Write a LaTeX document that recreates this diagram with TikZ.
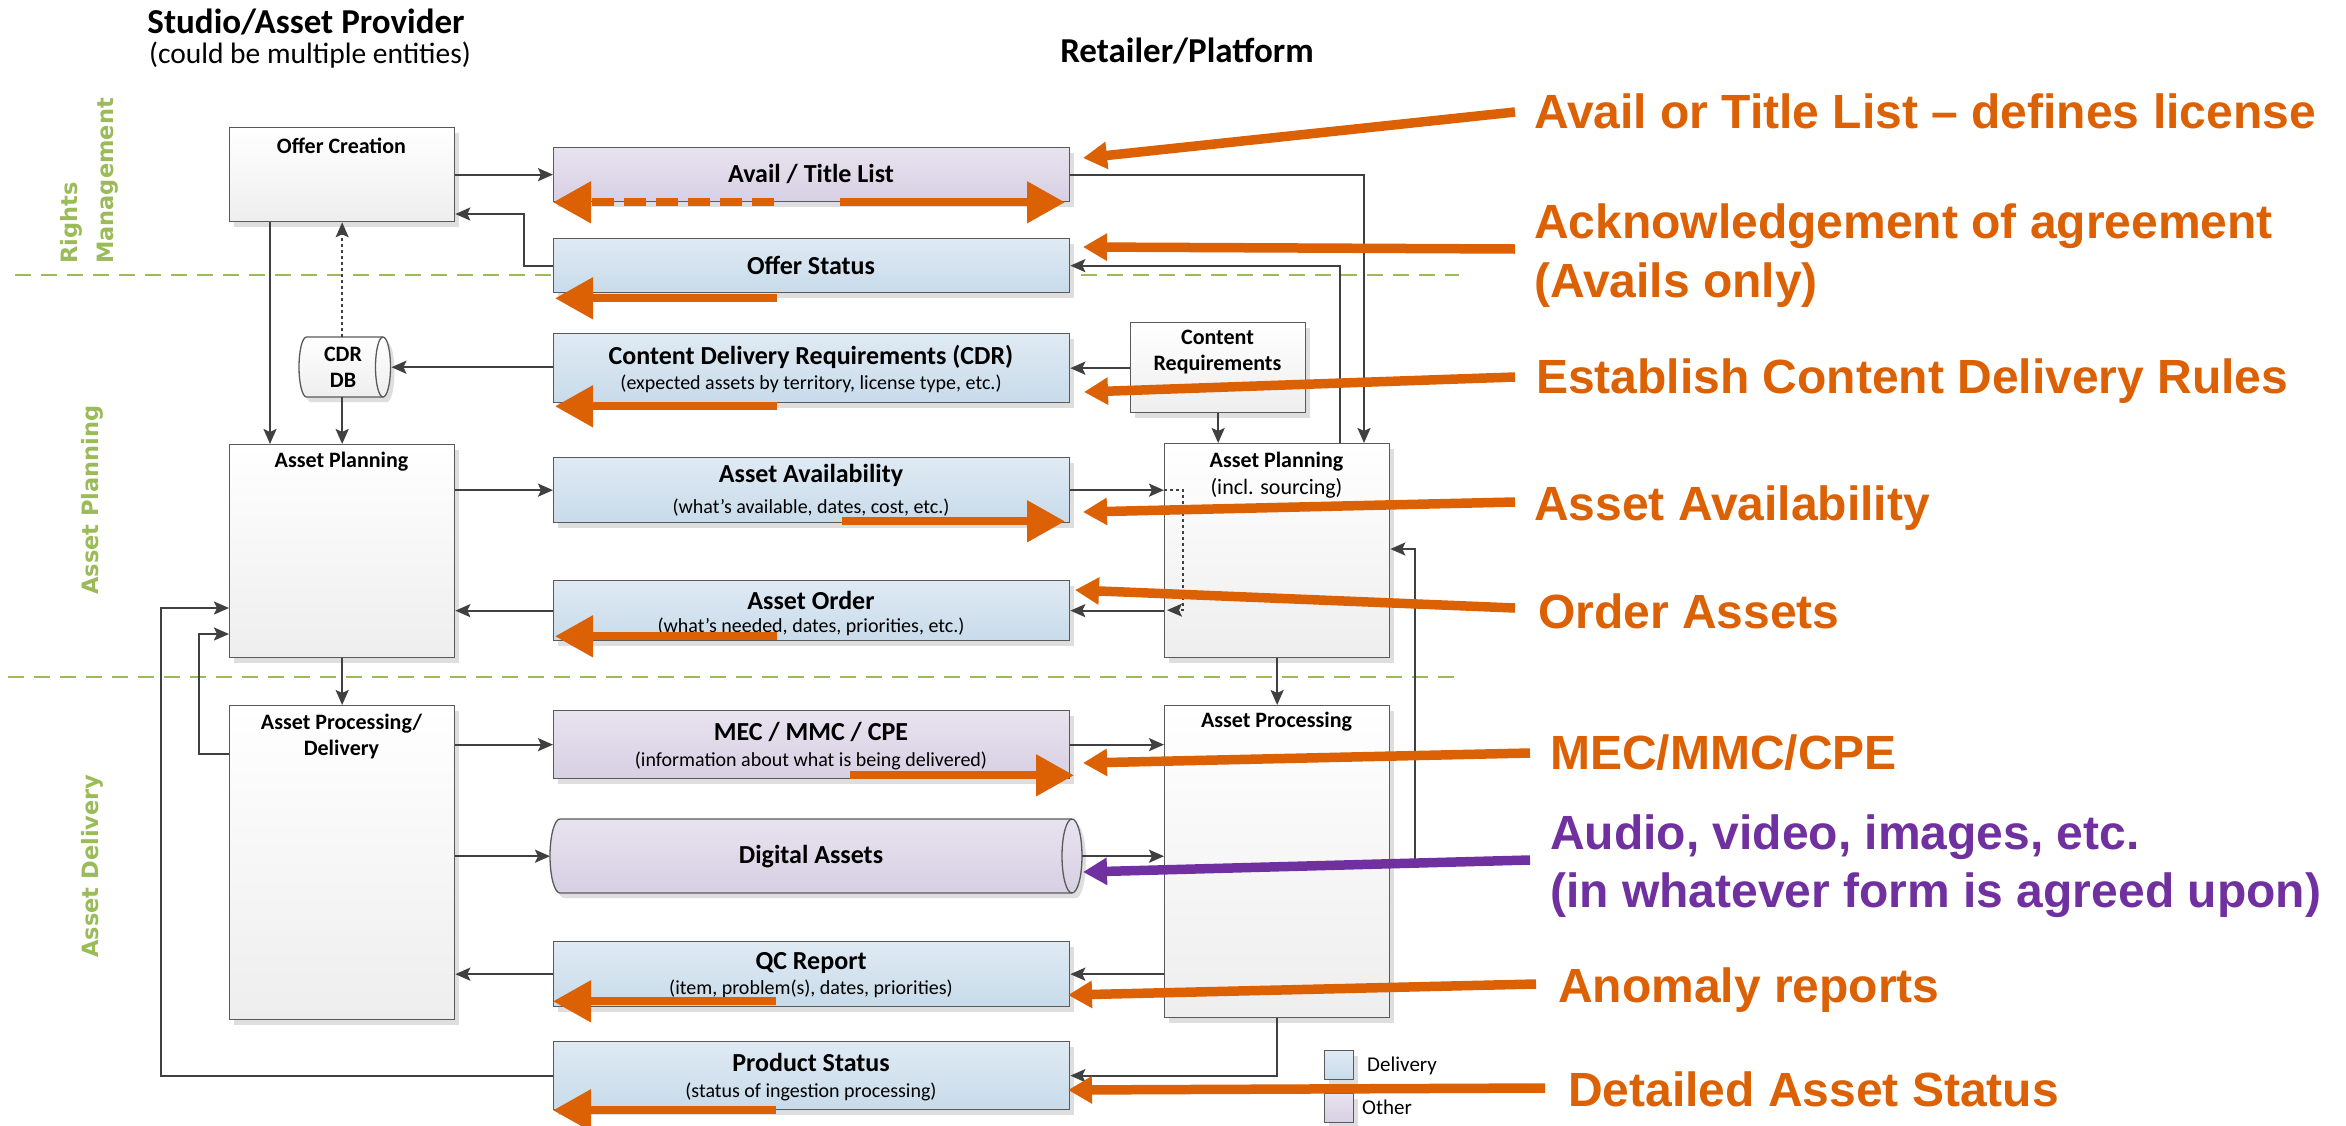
\documentclass[tikz,border=0pt]{standalone}
\usepackage{fontspec}
\setmainfont{Carlito}
\newfontfamily\annofont{Liberation Sans}
\newfontfamily\bandfont{DejaVu Sans}
\usetikzlibrary{arrows.meta,shadows,calc}

\definecolor{lnkgray}{RGB}{64,64,64}
\definecolor{edgegray}{RGB}{90,90,90}
\definecolor{shadowgray}{RGB}{222,222,222}
\definecolor{plainbot}{RGB}{238,238,238}
\definecolor{deltop}{RGB}{223,234,243}
\definecolor{delbot}{RGB}{200,219,234}
\definecolor{othtop}{RGB}{232,227,239}
\definecolor{othbot}{RGB}{215,207,227}
\definecolor{bandgreen}{RGB}{155,187,89}
\definecolor{noteorange}{RGB}{220,96,4}
\definecolor{notepurple}{RGB}{112,48,160}

% horizontal cylinder: #1 left x, #2 centre x of the front end, #3 top y, #4 bottom y, #5 end half-width
\newcommand\cylpath[5]{(#1+#5,#3) -- (#2,#3)
  arc[start angle=-90,end angle=90,x radius=#5,y radius=(#4-#3)/2]
  -- (#1+#5,#4)
  arc[start angle=90,end angle=270,x radius=#5,y radius=(#4-#3)/2] -- cycle}
\newcommand\cylface[4]{(#1,#2) arc[start angle=-90,end angle=-270,x radius=#4,y radius=(#3-#2)/2]}

\begin{document}
\begin{tikzpicture}[x=1pt,y=-1pt,
  lnk/.style={draw=lnkgray,line width=2.2pt,-{Stealth[length=15pt,width=13pt,inset=3pt]}},
  dotlnk/.style={draw=lnkgray,line width=1.6pt,dash pattern=on 3pt off 3pt,-{Stealth[length=15pt,width=13pt,inset=3pt]}},
  sepline/.style={draw=bandgreen,line width=2pt,dash pattern=on 16pt off 10pt},
  boxbase/.style={draw=edgegray,line width=1.3pt,inner sep=0pt,anchor=north west,
    general shadow={fill=shadowgray,shadow xshift=4pt,shadow yshift=-5pt}},
  plainbox/.style={boxbase,top color=white,bottom color=plainbot},
  delivbox/.style={boxbase,top color=deltop,bottom color=delbot},
  otherbox/.style={boxbase,top color=othtop,bottom color=othbot},
  ttlS/.style={font=\fontsize{22}{26}\selectfont\bfseries,align=center,inner sep=0pt},
  ttlM/.style={font=\fontsize{26}{30}\selectfont\bfseries,inner sep=0pt},
  subM/.style={font=\fontsize{20}{24}\selectfont,inner sep=0pt},
  band/.style={font=\bandfont\bfseries\fontsize{22.5}{36}\selectfont,text=bandgreen,rotate=90,inner sep=0pt},
  note/.style={font=\annofont\bfseries\fontsize{48}{56}\selectfont,text=noteorange,anchor=base west,inner sep=0pt},
  bigarrow/.style={draw=noteorange,line width=8pt,-{Triangle[length=38pt,width=40pt]}},
  callout/.style={draw=noteorange,line width=9.5pt,-{Triangle[length=24pt,width=26pt]}},
]
\useasboundingbox (0,0) rectangle (2346,1125);
\fill[white] (0,0) rectangle (2346,1125);

% swim-lane separators
\draw[sepline] (15,275) -- (1459,275);
\draw[sepline] (8,677) -- (1455,677);

% column headings
\node[font=\fontsize{35}{40}\selectfont\bfseries,anchor=base,inner sep=0pt] (studio) at (306,33) {Studio/Asset Provider};
\node[font=\fontsize{29.5}{34}\selectfont,anchor=base,inner sep=0pt] (studiosub) at (310,63) {(could be multiple entities)};
\node[font=\fontsize{35}{40}\selectfont\bfseries,anchor=base,inner sep=0pt] (retail) at (1187,62) {Retailer/Platform};

% lane names
\node[band,anchor=west,align=left] (rmband) at (89,264) {Rights\\Management};
\node[band] (apband) at (92,500) {Asset Planning};
\node[band] (adband) at (92,866) {Asset Delivery};

% provider side
\node[plainbox,minimum width=225,minimum height=94] (oc) at (229,127) {};
\node[plainbox,minimum width=225,minimum height=213] (apl) at (229,444) {};
\node[plainbox,minimum width=225,minimum height=314] (apd) at (229,705) {};

% exchanged documents
\node[otherbox,minimum width=516,minimum height=54] (avail) at (553,147) {};
\node[delivbox,minimum width=516,minimum height=54] (ostat) at (553,238) {};
\node[delivbox,minimum width=516,minimum height=69] (cdr) at (553,333) {};
\node[delivbox,minimum width=516,minimum height=65] (aa) at (553,457) {};
\node[delivbox,minimum width=516,minimum height=60] (ao) at (553,580) {};
\node[otherbox,minimum width=516,minimum height=68] (mec) at (553,710) {};
\node[delivbox,minimum width=516,minimum height=65] (qc) at (553,941) {};
\node[delivbox,minimum width=516,minimum height=68] (ps) at (553,1041) {};

% retailer side
\node[plainbox,minimum width=175,minimum height=90] (creq) at (1130,322) {};
\node[plainbox,minimum width=225,minimum height=214] (apr) at (1164,443) {};
\node[plainbox,minimum width=225,minimum height=312] (aproc) at (1164,705) {};

% legend swatches
\node[delivbox,minimum width=29,minimum height=29] (legd) at (1324,1050) {};
\node[otherbox,minimum width=29,minimum height=29] (lego) at (1324,1093) {};

% cylinders (CDR database, digital assets)
\fill[shadowgray,shift={(4,5)}] \cylpath{299}{383}{337}{397}{7.5};
\shade[top color=white,bottom color=plainbot,draw=edgegray,line width=1.3pt] \cylpath{299}{383}{337}{397}{7.5};
\draw[edgegray,line width=1.3pt] \cylface{383}{337}{397}{7.5};
\node[inner sep=0pt,minimum width=92,minimum height=60,anchor=north west] (cdrdb) at (299,337) {};

\fill[shadowgray,shift={(4,5)}] \cylpath{550}{1072}{819}{893}{10};
\shade[top color=othtop,bottom color=othbot,draw=edgegray,line width=1.3pt] \cylpath{550}{1072}{819}{893}{10};
\draw[edgegray,line width=1.3pt] \cylface{1072}{819}{893}{10};
\node[inner sep=0pt,minimum width=532,minimum height=74,anchor=north west] (da) at (550,819) {};

% box texts
\node[ttlS] (oct) at (341.5,146) {Offer Creation};
\node[ttlS] (aplt) at (341.5,462) {Asset Planning};
\node[ttlS] (apdt) at (341.5,736) {Asset Processing/\\Delivery};
\node[ttlS] (cdrdbt) at (343,367) {CDR\\DB};
\node[ttlS] (creqt) at (1217.5,352.5) {Content\\Requirements};
\node[ttlS] (aprt) at (1276.5,462) {Asset Planning};
\node[font=\fontsize{22}{26}\selectfont,inner sep=0pt] (aprs) at (1276.5,488) {(incl. sourcing)};
\node[ttlS] (aproct) at (1276.5,722) {Asset Processing};

\node[ttlM] (availt) at (811,174) {Avail / Title List};
\node[ttlM] (ostatt) at (811,265) {Offer Status};
\node[ttlM] (cdrt) at (811,357) {Content Delivery Requirements (CDR)};
\node[subM] (cdrs) at (811,384) {(expected assets by territory, license type, etc.)};
\node[ttlM] (aat) at (811,475) {Asset Availability};
\node[subM] (aas) at (811,508) {(what’s available, dates, cost, etc.)};
\node[ttlM] (aot) at (811,600) {Asset Order};
\node[subM] (aos) at (811,627) {(what’s needed, dates, priorities, etc.)};
\node[ttlM] (mect) at (811,732) {MEC / MMC / CPE};
\node[subM] (mecs) at (811,761) {(information about what is being delivered)};
\node[ttlM] (dat) at (811,857) {Digital Assets};
\node[ttlM] (qct) at (811,963) {QC Report};
\node[subM] (qcs) at (811,989) {(item, problem(s), dates, priorities)};
\node[ttlM] (pst) at (811,1062) {Product Status};
\node[subM] (pss) at (811,1092) {(status of ingestion processing)};

\node[font=\fontsize{21}{25}\selectfont,anchor=west,inner sep=0pt] (legdt) at (1367,1066) {Delivery};
\node[font=\fontsize{21}{25}\selectfont,anchor=west,inner sep=0pt] (legot) at (1362,1107) {Other};

% flows
\draw[lnk] (oc.east |- avail.west) -- (avail.west);
\draw[lnk] (ostat.west) -- ++(-29,0) |- (oc.east |- 0,214);
\draw[lnk] (oc.south -| 270,0) -- (apl.north -| 270,0);
\draw[dotlnk] (cdrdb.north -| apl.north) -- (oc.south -| apl.north);
\draw[lnk] (cdr.west |- cdrdb.east) -- (cdrdb.east);
\draw[lnk] (cdrdb.south -| apl.north) -- (apl.north);
\draw[lnk] (creq.west |- cdr.east) -- (cdr.east);
\draw[lnk] (creq.south) -- (apr.north -| creq.south);
\draw[lnk] (avail.east) -| (apr.north -| 1364,0);
\draw[lnk] (apr.north -| 1340,0) |- (ostat.east);
\draw[lnk] (apl.east |- aa.west) -- (aa.west);
\draw[lnk] (aa.east) -- (apr.west |- aa.east);
\draw[dotlnk] (apr.west |- aa.east) -- ++(19,0) -- ++(0,120) -- ++(-16,0);
\draw[lnk] (apr.west |- ao.east) -- (ao.east);
\draw[lnk] (ao.west) -- (apl.east |- ao.west);
\draw[lnk] (apl.south) -- (apd.north);
\draw[lnk] (apr.south) -- (aproc.north);
\draw[lnk] (apd.east |- mec.west) -- (mec.west);
\draw[lnk] (mec.east) -- (aproc.west |- mec.east);
\draw[lnk] (apd.east |- da.west) -- (da.west);
\draw[lnk] (da.east) -- (aproc.west |- da.east);
\draw[lnk] (aproc.west |- qc.east) -- (qc.east);
\draw[lnk] (qc.west) -- (apd.east |- qc.west);
\draw[lnk] (aproc.south) |- (ps.east);
\draw[lnk] (ps.west) -| (161,608) -- (apl.west |- 0,608);
\draw[lnk] (apd.west |- 0,754) -| (199,634) -- (apl.west |- 0,634);
\draw[lnk] (aproc.east |- 0,862) -| (1415,549) -- (apr.east |- 0,549);

% direction markers inside the documents
\draw[bigarrow,dash pattern=on 22pt off 10pt] ($(avail.south west)+(221,0)$) -- ($(avail.south west)+(0,0)$);
\draw[bigarrow] ($(avail.south west)+(287,0)$) -- ($(avail.south west)+(512,0)$);
\draw[bigarrow] ($(ostat.south west)+(224,5)$) -- ($(ostat.south west)+(2,5)$);
\draw[bigarrow] ($(cdr.south west)+(224,3)$) -- ($(cdr.south west)+(2,3)$);
\draw[bigarrow] ($(aa.south west)+(289,-2)$) -- ($(aa.south west)+(512,-2)$);
\draw[bigarrow] ($(ao.south west)+(224,-5)$) -- ($(ao.south west)+(2,-5)$);
\draw[bigarrow] ($(mec.south west)+(297,-4)$) -- ($(mec.south west)+(521,-4)$);
\draw[bigarrow] ($(qc.south west)+(223,-6)$) -- ($(qc.south west)+(0,-6)$);
\draw[bigarrow] ($(ps.south west)+(223,0)$) -- ($(ps.south west)+(0,0)$);

% notes
\node[note] (n1) at (1534,128) {Avail or Title List – defines license};
\node[note] (n2) at (1534,238) {Acknowledgement of agreement};
\node[note] (n2b) at (1534,297) {(Avails only)};
\node[note] (n3) at (1536,393) {Establish Content Delivery Rules};
\node[note] (n4) at (1534,520) {Asset Availability};
\node[note] (n5) at (1538,628) {Order Assets};
\node[note] (n6) at (1550,769) {MEC/MMC/CPE};
\node[note,text=notepurple] (n7) at (1550,849) {Audio, video, images, etc.};
\node[note,text=notepurple] (n7b) at (1550,907) {(in whatever form is agreed upon)};
\node[note] (n8) at (1558,1002) {Anomaly reports};
\node[note] (n9) at (1568,1106) {Detailed Asset Status};

\coordinate (c1s) at (1515,112); \coordinate (c1e) at (1083,158);
\coordinate (c2s) at (1515,249); \coordinate (c2e) at (1083,247);
\coordinate (c3s) at (1515,377); \coordinate (c3e) at (1084,392);
\coordinate (c4s) at (1515,502); \coordinate (c4e) at (1083,512);
\coordinate (c5s) at (1515,608); \coordinate (c5e) at (1075,590);
\coordinate (c6s) at (1530,753); \coordinate (c6e) at (1083,763);
\coordinate (c7s) at (1530,860); \coordinate (c7e) at (1083,872);
\coordinate (c8s) at (1536,984); \coordinate (c8e) at (1068,995);
\coordinate (c9s) at (1545,1088); \coordinate (c9e) at (1068,1090);
\draw[callout] (c1s) -- (c1e);
\draw[callout] (c2s) -- (c2e);
\draw[callout] (c3s) -- (c3e);
\draw[callout] (c4s) -- (c4e);
\draw[callout] (c5s) -- (c5e);
\draw[callout] (c6s) -- (c6e);
\draw[callout,draw=notepurple] (c7s) -- (c7e);
\draw[callout] (c8s) -- (c8e);
\draw[callout] (c9s) -- (c9e);
\end{tikzpicture}
\end{document}
